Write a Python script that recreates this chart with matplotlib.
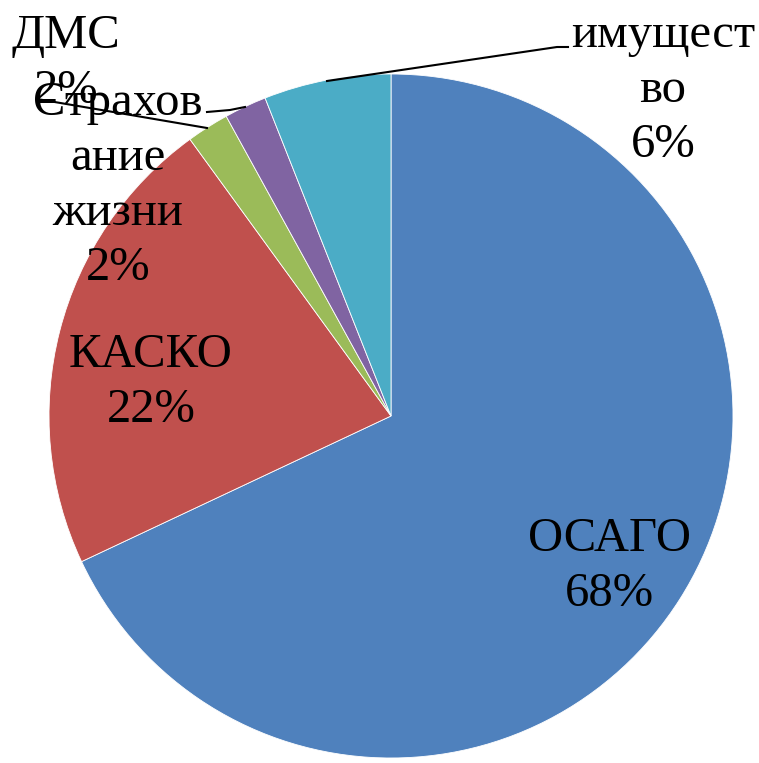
import matplotlib.pyplot as plt

# data
labels = ['ОСАГО', 'КАСКО', 'Страхование жизни', 'ДМС', 'имущество']
values = [68, 22, 2, 2, 6]
colors = ['#4F81BD', '#C0504D', '#9BBB59', '#8064A2', '#4BACC6']

# label lines as shown on the chart (wrapped like in the source)
label_lines = [
    ['ОСАГО', '68%'],
    ['КАСКО', '22%'],
    ['Страхов', 'ание', 'жизни', '2%'],
    ['ДМС', '2%'],
    ['имущест', 'во', '6%'],
]
# first-line baseline position, pixels from top-left
label_pos = [(609, 551), (151, 367), (118, 115), (66, 48), (663, 47)]
line_step = 55

W, H = 759, 763
fig = plt.figure(figsize=(W / 100, H / 100), dpi=100)
ax = fig.add_axes([0, 0, 1, 1])
ax.set_xlim(0, W)
ax.set_ylim(0, H)
ax.set_aspect('equal')
ax.axis('off')

cx, cy, r = 391, H - 416, 342
ax.pie(values, colors=colors, startangle=90, counterclock=False,
       center=(cx, cy), radius=r, frame=True,
       wedgeprops=dict(edgecolor='white', linewidth=0.6))
ax.set_xlim(0, W)
ax.set_ylim(0, H)
ax.axis('off')

# leader lines
leaders = [
    [(327, 81), (557, 47), (568, 47)],
    [(37, 99), (207, 128)],
    [(207, 112), (230, 110), (245, 107)],
]
for pts in leaders:
    xs = [p[0] for p in pts]
    ys = [H - p[1] for p in pts]
    ax.plot(xs, ys, color='black', lw=1.5)

for lines, (x, y) in zip(label_lines, label_pos):
    for i, s in enumerate(lines):
        ax.text(x, H - (y + i * line_step), s, ha='center', va='baseline',
                fontsize=35, family='Liberation Serif', color='black')

plt.savefig('out.png', dpi=100)
